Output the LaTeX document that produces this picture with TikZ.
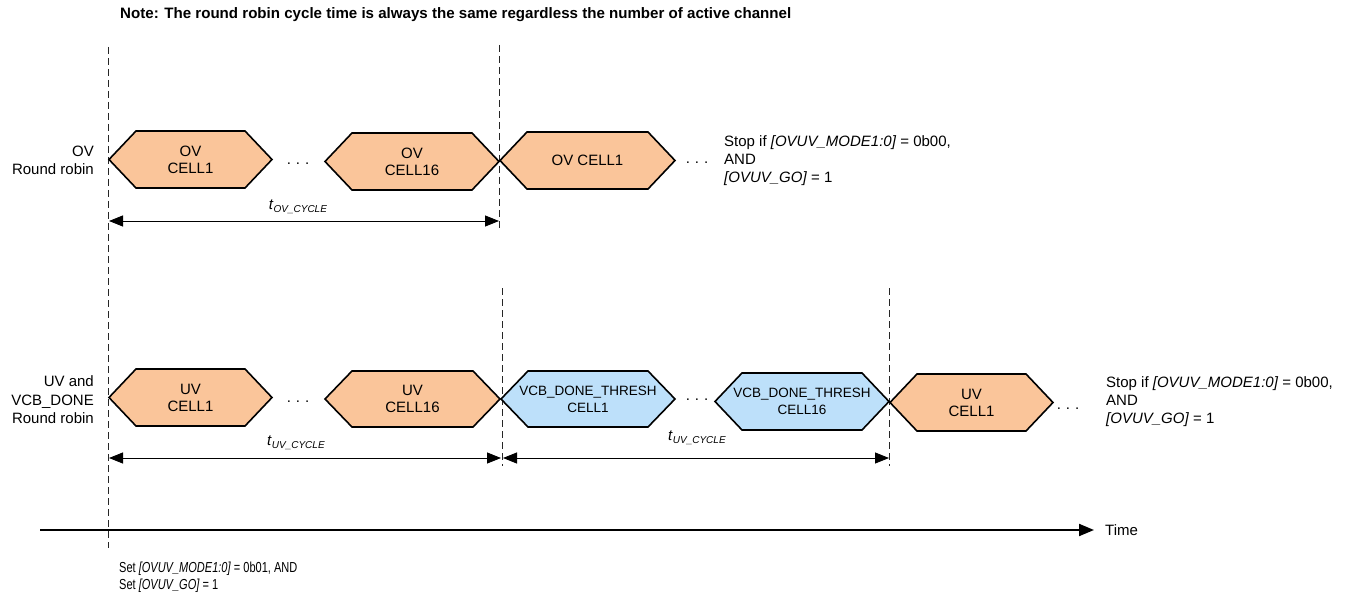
\documentclass[tikz,border=0pt]{standalone}
\usepackage{fontspec}
\setmainfont{Liberation Sans}
\usetikzlibrary{arrows.meta}
\definecolor{ovfill}{RGB}{250,197,154}
\definecolor{vcbfill}{RGB}{189,224,250}
\newcommand{\hexbox}[7]{%
  \draw[hexline,fill=#6] (#2,{(#4+#5)/2}) -- (#2+27,#4) -- (#3-27,#4) -- (#3,{(#4+#5)/2}) -- (#3-27,#5) -- (#2+27,#5) -- cycle;
  \node[hextext] (#1) at ({(#2+#3)/2},{(#4+#5)/2}) {#7};}
\begin{document}
\begin{tikzpicture}[x=1pt,y=-1pt,
  hexline/.style={draw=black,line width=1.6pt,line join=miter},
  hextext/.style={align=center,inner sep=0pt,font=\fontsize{15}{17}\selectfont},
  body/.style={inner sep=0pt,font=\fontsize{15}{18}\selectfont},
  dots/.style={inner sep=0pt,anchor=base,font=\fontsize{15}{18}\selectfont},
  guide/.style={draw=black!85,line width=0.9pt,dash pattern=on 7pt off 4pt},
  dimarrow/.style={draw=black,line width=0.8pt,{Triangle[length=14pt,width=11pt]}-{Triangle[length=14pt,width=11pt]}},
  tlabel/.style={inner sep=0pt,font=\fontsize{15}{18}\selectfont}
]
\fill[white] (0,0) rectangle (1353,599);
\useasboundingbox (0,0) rectangle (1353,599);

% note
\node[inner sep=0pt,anchor=west,font=\bfseries\fontsize{15.1}{17}\selectfont] (note) at (120,15) {Note: The round robin cycle time is always the same regardless the number of active channel};

% guide lines
\coordinate (g0t) at (108,47);   \coordinate (g0b) at (108,548);
\coordinate (g1t) at (499,45);   \coordinate (g1b) at (499,230);
\coordinate (g2t) at (502,288);  \coordinate (g2b) at (502,466);
\coordinate (g3t) at (889,288);  \coordinate (g3b) at (889,466);
\draw[guide] (g0t) -- (g0b);
\draw[guide] (g1t) -- (g1b);
\draw[guide] (g2t) -- (g2b);
\draw[guide] (g3t) -- (g3b);

% row labels
\node[body,anchor=east,align=right] (ovlab) at (94,160) {OV\\Round robin};
\node[body,anchor=east,align=right,font=\fontsize{15}{18.5}\selectfont] (uvlab) at (94,400) {UV and\\VCB\_DONE\\Round robin};

% OV row
\hexbox{ov1}{109}{272}{131}{188}{ovfill}{OV\\CELL1}
\hexbox{ov16}{325}{499}{133}{190}{ovfill}{OV\\CELL16}
\hexbox{ovc1}{500}{675}{132}{189}{ovfill}{OV CELL1}
\node[dots] (d1) at (298,165) {.\,\,.\,\,.};
\node[dots] (d2) at (697,164) {.\,\,.\,\,.};
\node[body,anchor=west,align=left] (stop1) at (724,161) {Stop if \textit{[OVUV\_MODE1:0]} = 0b00,\\AND\\\textit{[OVUV\_GO]} = 1};

% UV row
\hexbox{uv1}{109}{272}{369}{426}{ovfill}{UV\\CELL1}
\hexbox{uv16}{325}{500}{371}{427}{ovfill}{UV\\CELL16}
\hexbox{vcb1}{501}{675}{371}{427}{vcbfill}{\fontsize{13.5}{16}\selectfont VCB\_DONE\_THRESH\\\fontsize{13.5}{16}\selectfont CELL1}
\hexbox{vcb16}{715}{889}{373}{430}{vcbfill}{\fontsize{13.5}{16}\selectfont VCB\_DONE\_THRESH\\\fontsize{13.5}{16}\selectfont CELL16}
\hexbox{uvc1}{890}{1053}{374}{431}{ovfill}{UV\\CELL1}
\node[dots] (d3) at (298,402) {.\,\,.\,\,.};
\node[dots] (d4) at (697,400) {.\,\,.\,\,.};
\node[dots] (d5) at (1068,409) {.\,\,.\,\,.};
\node[body,anchor=west,align=left] (stop2) at (1106,402) {Stop if \textit{[OVUV\_MODE1:0]} = 0b00,\\AND\\\textit{[OVUV\_GO]} = 1};

% cycle arrows
\coordinate (a1l) at (109,221); \coordinate (a1r) at (499,221);
\coordinate (a2l) at (109,458); \coordinate (a2r) at (501,458);
\coordinate (a3l) at (503,458); \coordinate (a3r) at (889,458);
\draw[dimarrow] (a1l) -- (a1r);
\draw[dimarrow] (a2l) -- (a2r);
\draw[dimarrow] (a3l) -- (a3r);
\node[tlabel] (t1) at (298,207) {\textit{t}\raisebox{-2.5pt}{\fontsize{10}{10}\selectfont\textit{OV\_CYCLE}}};
\node[tlabel] (t2) at (296,443) {\textit{t}\raisebox{-2.5pt}{\fontsize{10}{10}\selectfont\textit{UV\_CYCLE}}};
\node[tlabel] (t3) at (697,438) {\textit{t}\raisebox{-2.5pt}{\fontsize{10}{10}\selectfont\textit{UV\_CYCLE}}};

% time axis
\coordinate (ts) at (40,530); \coordinate (te) at (1094,530);
\draw[line width=2pt,-{Triangle[length=15pt,width=12pt]}] (ts) -- (te);
\node[body,anchor=west] (time) at (1105,530) {Time};

% start condition
\node[inner sep=0pt,anchor=west] (setc) at (119,578) {\scalebox{0.76}[1]{\fontsize{14.5}{17}\selectfont\begin{tabular}{@{}l@{}}Set \textit{[OVUV\_MODE1:0]} = 0b01, AND\\Set \textit{[OVUV\_GO]} = 1\end{tabular}}};
\end{tikzpicture}
\end{document}
